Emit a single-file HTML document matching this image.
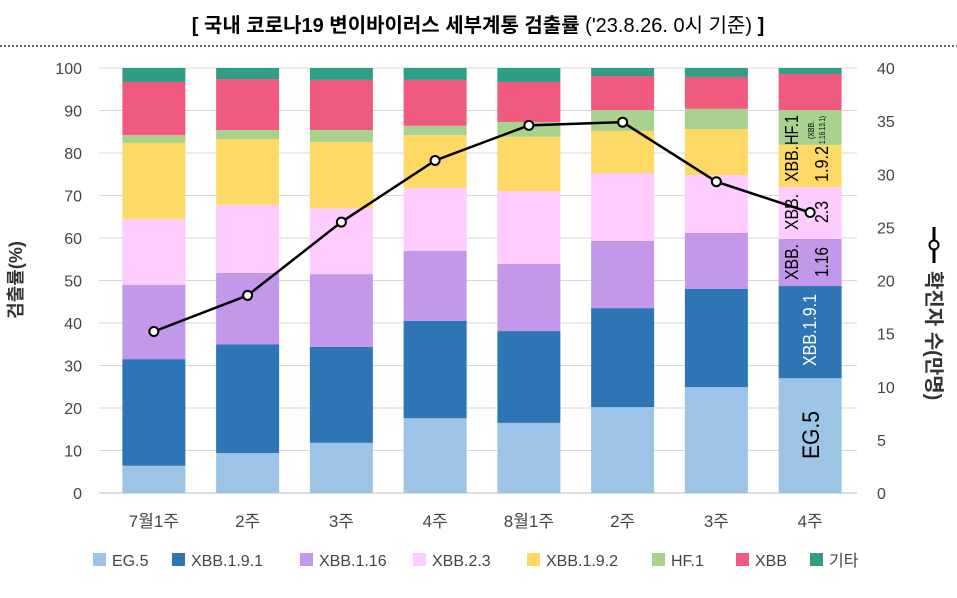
<!DOCTYPE html>
<html><head><meta charset="utf-8"><style>
body{margin:0;background:#fff;width:957px;height:593px;overflow:hidden;font-family:"Liberation Sans","Noto Sans CJK KR",sans-serif}
</style></head><body>
<svg id="chart" width="957" height="593" xmlns="http://www.w3.org/2000/svg" font-family="Liberation Sans, Noto Sans CJK KR, sans-serif">
<text x="478" y="32" text-anchor="middle" font-size="20" font-weight="bold" fill="#000">[ 국내 코로나19 변이바이러스 세부계통 검출률 <tspan font-weight="normal">('23.8.26. 0시 기준)</tspan> ]</text>
<line x1="0" y1="46" x2="957" y2="46" stroke="#333" stroke-width="1.5" stroke-dasharray="2,2"/>
<g id="grid"></g><g id="bars"></g><g id="line"></g><g id="axes"></g><g id="legend"></g>
<text transform="translate(22,280) rotate(-90)" text-anchor="middle" font-size="18" font-weight="bold" fill="#333">검출률(%)</text>
<g transform="translate(934,245) rotate(90)">
<line x1="-18" y1="0" x2="18" y2="0" stroke="#000" stroke-width="3"/><circle cx="0" cy="0" r="4.5" fill="#fff" stroke="#000" stroke-width="2"/>
<text x="26" y="7" font-size="20" font-weight="bold" fill="#333">확진자 수(만명)</text></g>
<g fill="#000" text-anchor="middle">
<text transform="translate(819,435) rotate(-90)" font-size="24" textLength="48" lengthAdjust="spacingAndGlyphs">EG.5</text>
<text transform="translate(816,330) rotate(-90)" fill="#fff" font-size="18" textLength="72" lengthAdjust="spacingAndGlyphs">XBB.1.9.1</text>
<text transform="translate(798,262) rotate(-90)" font-size="18" textLength="36" lengthAdjust="spacingAndGlyphs">XBB.</text>
<text transform="translate(828,262) rotate(-90)" font-size="18" textLength="30" lengthAdjust="spacingAndGlyphs">1.16</text>
<text transform="translate(798,212) rotate(-90)" font-size="18" textLength="36" lengthAdjust="spacingAndGlyphs">XBB.</text>
<text transform="translate(828,212) rotate(-90)" font-size="18" textLength="22" lengthAdjust="spacingAndGlyphs">2.3</text>
<text transform="translate(798,164) rotate(-90)" font-size="18" textLength="36" lengthAdjust="spacingAndGlyphs">XBB.</text>
<text transform="translate(828,164) rotate(-90)" font-size="18" textLength="36" lengthAdjust="spacingAndGlyphs">1.9.2</text>
<text transform="translate(798,130) rotate(-90)" font-size="18" textLength="30" lengthAdjust="spacingAndGlyphs">HF.1</text>
<text transform="translate(814,130) rotate(-90)" font-size="8" textLength="18" lengthAdjust="spacingAndGlyphs">(XBB.</text>
<text transform="translate(825,130) rotate(-90)" font-size="8" textLength="28" lengthAdjust="spacingAndGlyphs">1.16.13.1)</text>
</g>
</svg>
<script>
const categories=["7월1주","2주","3주","4주","8월1주","2주","3주","4주"];
const seriesNames=["EG.5","XBB.1.9.1","XBB.1.16","XBB.2.3","XBB.1.9.2","HF.1","XBB","기타"];
const colors=["#9dc3e6","#2e75b6","#c397ea","#ffccff","#ffd966","#a9d18e","#f05a7e","#2e9e86"];
const eg5=[6.4,9.4,11.8,17.6,16.5,20.2,24.9,27.0];
const xbb191=[25.1,25.6,22.6,22.9,21.6,23.3,23.1,21.7];
const xbb116=[17.5,16.8,17.1,16.5,15.8,15.8,13.2,11.1];
const xbb23=[15.5,16.0,15.5,14.8,17.1,16.0,13.6,12.2];
const xbb192=[17.9,15.5,15.6,12.4,12.8,9.9,10.8,9.9];
const hf1=[1.8,2.1,2.8,2.2,3.5,4.9,4.8,8.2];
const xbb=[12.5,12.0,11.8,10.8,9.4,8.0,7.5,8.5];
const etc=[3.3,2.6,2.8,2.8,3.3,1.9,2.1,1.4];
const cases=[15.2,18.6,25.5,31.3,34.6,34.9,29.3,26.4];
const leftTicks=[0,10,20,30,40,50,60,70,80,90,100];
const rightTicks=[0,5,10,15,20,25,30,35,40];
const series=[eg5,xbb191,xbb116,xbb23,xbb192,hf1,xbb,etc];
const NS="http://www.w3.org/2000/svg";
const X0=107,X1=857,Y0=493,Y1=68;
const yL=v=>Y0-(v/100)*(Y0-Y1);
const yR=v=>Y0-(v/40)*(Y0-Y1);
const step=(X1-X0)/categories.length;
const xC=i=>X0+step*(i+0.5);
const BW=63;
function mk(t,a,p){const e=document.createElementNS(NS,t);for(const k in a)e.setAttribute(k,a[k]);p.appendChild(e);return e;}
const grid=document.getElementById('grid'),axes=document.getElementById('axes');
leftTicks.forEach(v=>{
 const l=mk('line',{x1:X0-8,x2:X1,y1:yL(v),y2:yL(v),stroke:v===0?'#bbb':'#d9d9d9','stroke-width':1},grid);
 
 
 const t=mk('text',{x:82,y:yL(v)+6,'text-anchor':'end','font-size':16,fill:'#444'},axes);t.textContent=v;
 
 
});
rightTicks.forEach(v=>{
 const t=mk('text',{x:877,y:yR(v)+6,'font-size':16,fill:'#444'},axes);t.textContent=v;
 
 
});
categories.forEach((c,i)=>{
 const t=mk('text',{x:xC(i),y:527,'text-anchor':'middle','font-size':17,fill:'#444'},axes);t.textContent=c;
 
 
});
const bars=document.getElementById('bars');
categories.forEach((c,i)=>{
 let cum=0;
 series.forEach((s,k)=>{
  const y1=yL(cum+s[i]),y0=yL(cum);cum+=s[i];
  const r=mk('rect',{x:xC(i)-BW/2,y:y1,width:BW,height:y0-y1,fill:colors[k]},bars);
  
  
 });
});
const lg=document.getElementById('line');
const pl=mk('polyline',{points:cases.map((v,i)=>xC(i)+','+yR(v)).join(' '),fill:'none',stroke:'#000','stroke-width':2.5},lg);


cases.forEach((v,i)=>{
 const p=mk('circle',{cx:xC(i),cy:yR(v),r:4.5,fill:'#fff',stroke:'#000','stroke-width':2},lg);
 
 
});
const leg=document.getElementById('legend');
const lx=[93,172,300,413,527,652,736,810];
seriesNames.forEach((n,k)=>{
 const r=mk('rect',{x:lx[k],y:553,width:13,height:13,fill:colors[k]},leg);
 
 
 const t=mk('text',{x:lx[k]+19,y:566,'font-size':16,fill:'#444'},leg);t.textContent=n;
 
 
});
</script>
</body></html>
